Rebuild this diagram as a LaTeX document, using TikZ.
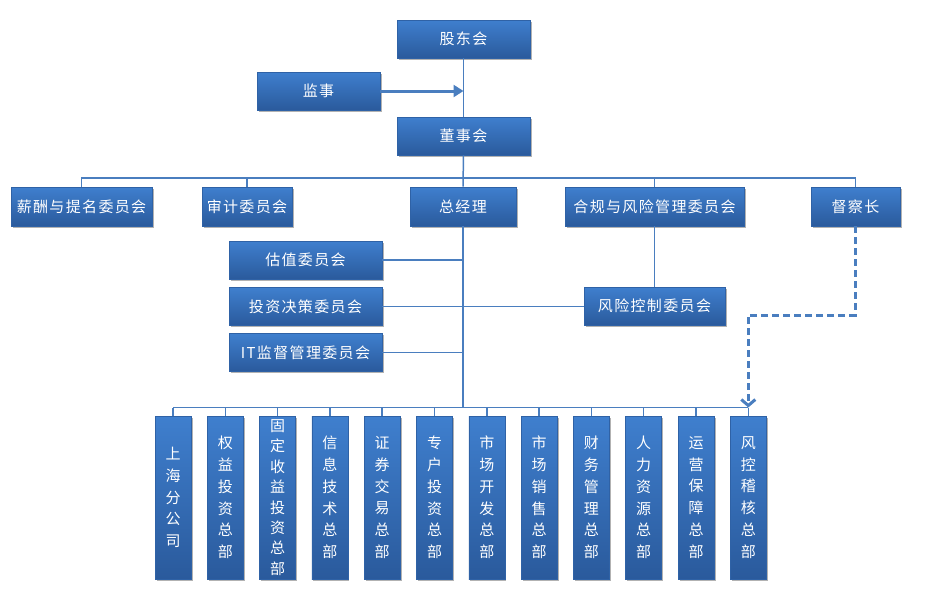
\documentclass[tikz,border=0pt]{standalone}
\usepackage{fontspec}
\setmainfont{Noto Sans CJK SC}
\newfontfamily\cjkh[LetterSpace=9]{Noto Sans CJK SC}
\newfontfamily\cjkv{Noto Sans CJK SC}
\usetikzlibrary{shadows,arrows.meta}
\definecolor{boxtop}{HTML}{3F7FCE}
\definecolor{boxbot}{HTML}{2A5A9C}
\definecolor{boxedge}{HTML}{2F62A6}
\definecolor{linec}{HTML}{4A7EBF}
\tikzset{
  orgbox/.style={rectangle, inner sep=0pt, top color=boxtop, bottom color=boxbot,
    draw=boxedge, line width=0.6pt, text=white,
    font=\cjkh\fontsize{15}{17}\selectfont,
    drop shadow={shadow xshift=1.5pt, shadow yshift=-1.8pt, opacity=0.3, fill=black}},
  vbox/.style={orgbox, minimum width=36pt, minimum height=163pt, align=center},
  conn/.style={draw=linec, line width=1.5pt},
  thickarrow/.style={draw=linec, line width=3pt, -{Triangle[length=10pt,width=12pt]}},
  dasharrow/.style={draw=linec, line width=3pt, dashed, dash pattern=on 7pt off 4pt,
    -{Straight Barb[length=6pt,width=14pt,line width=3pt]}}
}
\begin{document}
\begin{tikzpicture}[x=1pt,y=-1pt]
\useasboundingbox (0,0) rectangle (930,590);
% top level
\node[orgbox, minimum width=133pt, minimum height=38pt] (gd) at (463.5,39) {股东会};
\node[orgbox, minimum width=123pt, minimum height=38pt] (js) at (318.5,91) {监事};
\node[orgbox, minimum width=133pt, minimum height=38pt] (dsh) at (463.5,136) {董事会};
% second row
\node[orgbox, minimum width=141pt, minimum height=39pt] (xc) at (81.5,206.5) {薪酬与提名委员会};
\node[orgbox, minimum width=90pt, minimum height=39pt] (sj) at (247,206.5) {审计委员会};
\node[orgbox, minimum width=106pt, minimum height=39pt] (zjl) at (463,206.5) {总经理};
\node[orgbox, minimum width=179pt, minimum height=39pt] (hg) at (654.5,206.5) {合规与风险管理委员会};
\node[orgbox, minimum width=89pt, minimum height=39pt] (dcz) at (855.5,206.5) {督察长};
% committees
\node[orgbox, minimum width=153pt, minimum height=38pt] (gz) at (305.5,260) {估值委员会};
\node[orgbox, minimum width=153pt, minimum height=38pt] (tz) at (305.5,306.5) {投资决策委员会};
\node[orgbox, minimum width=153pt, minimum height=38pt] (it) at (305.5,352.5) {IT监督管理委员会};
\node[orgbox, minimum width=141pt, minimum height=38pt] (fk) at (654.5,306) {风险控制委员会};
% bottom departments
\foreach \t/\ls [count=\i from 0] in {
  {上\\海\\分\\公\\司}/21.8,
  {权\\益\\投\\资\\总\\部}/21.8,
  {固\\定\\收\\益\\投\\资\\总\\部}/20.4,
  {信\\息\\技\\术\\总\\部}/21.8,
  {证\\券\\交\\易\\总\\部}/21.8,
  {专\\户\\投\\资\\总\\部}/21.8,
  {市\\场\\开\\发\\总\\部}/21.8,
  {市\\场\\销\\售\\总\\部}/21.8,
  {财\\务\\管\\理\\总\\部}/21.8,
  {人\\力\\资\\源\\总\\部}/21.8,
  {运\\营\\保\\障\\总\\部}/21.8,
  {风\\控\\稽\\核\\总\\部}/21.8}{
  \node[vbox, font={\cjkv\fontsize{15}{\ls}\selectfont}] (b\i) at ({173+52.3*\i},497.5) {\t};
}
% connectors
\coordinate (topbus) at (0,178);
\coordinate (botbus) at (0,407.5);
\coordinate (dashy) at (0,315);
\draw[conn] (gd.south) -- (dsh.north);
\draw[thickarrow] (js.east) -- (gd.south |- js.east);
\draw[conn] (dsh.south) -- (zjl.north);
\draw[conn] (xc.north) -- (xc.north |- topbus) -- (dcz.north |- topbus) -- (dcz.north);
\draw[conn] (sj.north) -- (sj.north |- topbus);
\draw[conn] (hg.north) -- (hg.north |- topbus);
\draw[conn] (hg.south) -- (fk.north);
\draw[conn] (zjl.south) -- (zjl.south |- botbus);
\draw[conn] (gz.east) -- (zjl.south |- gz.east);
\draw[conn] (tz.east) -- (fk.west |- tz.east);
\draw[conn] (it.east) -- (zjl.south |- it.east);
\draw[conn] (b0.north |- botbus) -- (b11.north |- botbus);
\foreach \i in {0,...,11}{
  \draw[conn] (b\i.north) -- (b\i.north |- botbus);
}
\draw[dasharrow] (dcz.south) -- (dcz.south |- dashy) -- (b11.north |- dashy) -- (b11.north |- botbus);
\end{tikzpicture}
\end{document}
